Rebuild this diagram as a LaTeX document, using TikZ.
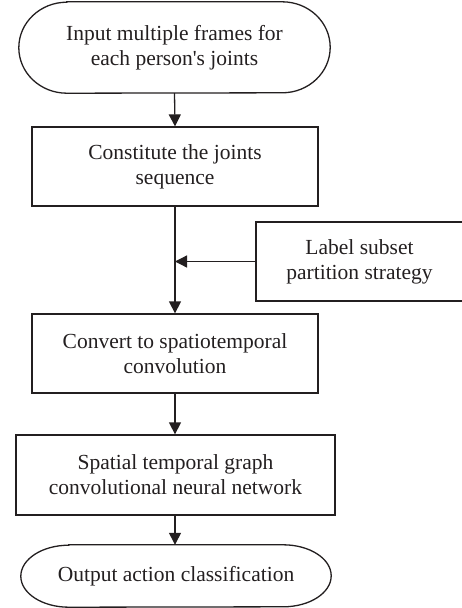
\documentclass[tikz,border=0pt]{standalone}
\usepackage{fontspec}
\setmainfont{Liberation Serif}
\usetikzlibrary{arrows.meta}
\definecolor{ink}{HTML}{231F20}
\begin{document}
\begin{tikzpicture}[x=1pt,y=1pt,
  every node/.style={font=\fontsize{21.5}{25}\selectfont, text=ink, align=center, inner sep=0pt},
  procbox/.style={draw=ink, line width=1.3pt, minimum width=#1, minimum height=79pt},
  terminal/.style={minimum width=#1},
  link/.style={draw=ink, line width=1.3pt, -{Triangle[length=12pt,width=12pt]}},
  outline/.style={draw=ink, line width=1.3pt}
]
\useasboundingbox (0,0) rectangle (462,-608);

% start and end terminals (drawn as stadiums with elliptic ends)
\node[terminal=311pt, minimum height=91pt] (start) at (174.5,-47.5)
  {Input multiple frames for\\each person\textquotesingle s joints};
\node[terminal=310pt, minimum height=62pt] (stop) at (176,-576)
  {Output action classification};

\foreach \n/\ry in {start/45.5, stop/31} {
  \draw[outline] ([xshift=48pt]\n.north west) -- ([xshift=-48pt]\n.north east)
    arc[start angle=90, end angle=-90, x radius=48pt, y radius=\ry pt]
    -- ([xshift=48pt]\n.south west)
    arc[start angle=270, end angle=90, x radius=48pt, y radius=\ry pt] -- cycle;
}

% process steps
\node[procbox=286pt] (seq) at (175,-166.5) {Constitute the joints\\sequence};
\node[procbox=207pt] (label) at (359.5,-261.5) {Label subset\\partition strategy};
\node[procbox=286pt] (conv) at (175,-353.5) {Convert to spatiotemporal\\convolution};
\node[procbox=319pt, minimum height=80pt] (stgcn) at (175.5,-475)
  {Spatial temporal graph\\convolutional neural network};

% connectors
\coordinate (merge) at (label.west -| seq.south);
\draw[link] (start.south) -- (seq.north);
\draw[link] (seq.south) -- (conv.north);
\draw[link] (label.west) -- (merge);
\draw[link] (conv.south) -- (stgcn.north -| conv.south);
\draw[link] (stgcn.south -| conv.south) -- (stop.north -| conv.south);
\end{tikzpicture}
\end{document}
